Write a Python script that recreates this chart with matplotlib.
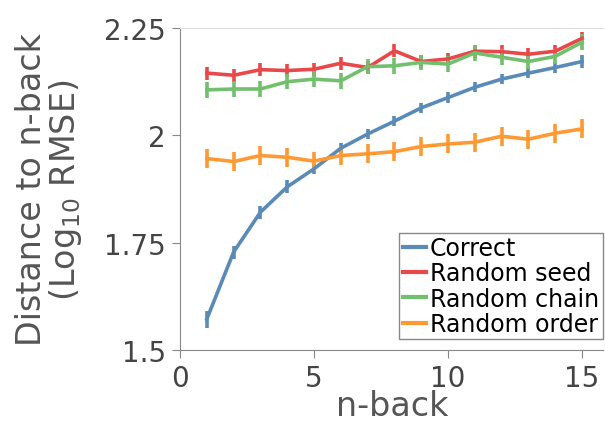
import matplotlib
matplotlib.use("Agg")
import matplotlib.pyplot as plt
from matplotlib.lines import Line2D

n_back = list(range(1, 16))

correct = [1.572, 1.728, 1.821, 1.880, 1.922, 1.970, 2.003, 2.033, 2.064, 2.088,
           2.112, 2.131, 2.145, 2.158, 2.172]
correct_err = [0.02, 0.015, 0.015, 0.015, 0.012, 0.012, 0.012, 0.012, 0.012, 0.012,
               0.012, 0.012, 0.012, 0.012, 0.015]

random_seed = [2.145, 2.140, 2.153, 2.151, 2.154, 2.168, 2.158, 2.197, 2.172, 2.178,
               2.196, 2.195, 2.189, 2.196, 2.226]
seed_err = [0.015] * 15

random_chain = [2.106, 2.108, 2.108, 2.125, 2.131, 2.127, 2.160, 2.162, 2.170, 2.166,
                2.192, 2.182, 2.172, 2.184, 2.217]
chain_err = [0.018] * 15

random_order = [1.946, 1.939, 1.953, 1.949, 1.940, 1.953, 1.957, 1.962, 1.974, 1.980,
                1.984, 1.998, 1.991, 2.005, 2.015]
order_err = [0.022] * 15

labels = ["Correct", "Random seed", "Random chain", "Random order"]
colors = ["#5a8bb6", "#e9484a", "#72bf6d", "#ff9933"]

fig = plt.figure(figsize=(6.05, 4.27), dpi=100)
ax = fig.add_axes([0.2975, 0.178, 0.70, 0.754])

series = [(correct, correct_err), (random_seed, seed_err),
          (random_chain, chain_err), (random_order, order_err)]
for (vals, err), col in zip(series, colors):
    ax.errorbar(n_back, vals, yerr=err, color=col, lw=2.6, elinewidth=2.6,
                capsize=0)

ax.set_xlim(0, 15.8)
ax.set_ylim(1.5, 2.25)
ax.set_xticks([0, 5, 10, 15])
ax.set_yticks([1.5, 1.75, 2, 2.25])
ax.set_yticklabels(["1.5", "1.75", "2", "2.25"])
ax.tick_params(direction="out", length=6, width=0.8, color="#888888",
               labelsize=20, labelcolor="#444444", pad=4)
for s in ["left", "bottom"]:
    ax.spines[s].set_color("#888888")
ax.spines["top"].set_color("#dddddd")
ax.spines["right"].set_visible(False)

ax.set_xlabel("n-back", fontsize=24, color="#555555", labelpad=-2)
ax.set_ylabel("Distance to n-back\n(Log$_{10}$ RMSE)", fontsize=24,
              color="#555555", linespacing=0.95, labelpad=15)

handles = [Line2D([], [], color=c, lw=3) for c in colors]
leg = ax.legend(handles, labels, loc="lower right",
                bbox_to_anchor=(0.998, 0.033), fontsize=17,
                handlelength=1.0, handletextpad=0.15, borderpad=0.15,
                labelspacing=0.05, fancybox=False, framealpha=1,
                borderaxespad=0.0)
leg.get_frame().set_edgecolor("#888888")

fig.savefig("out.png", dpi=100)
